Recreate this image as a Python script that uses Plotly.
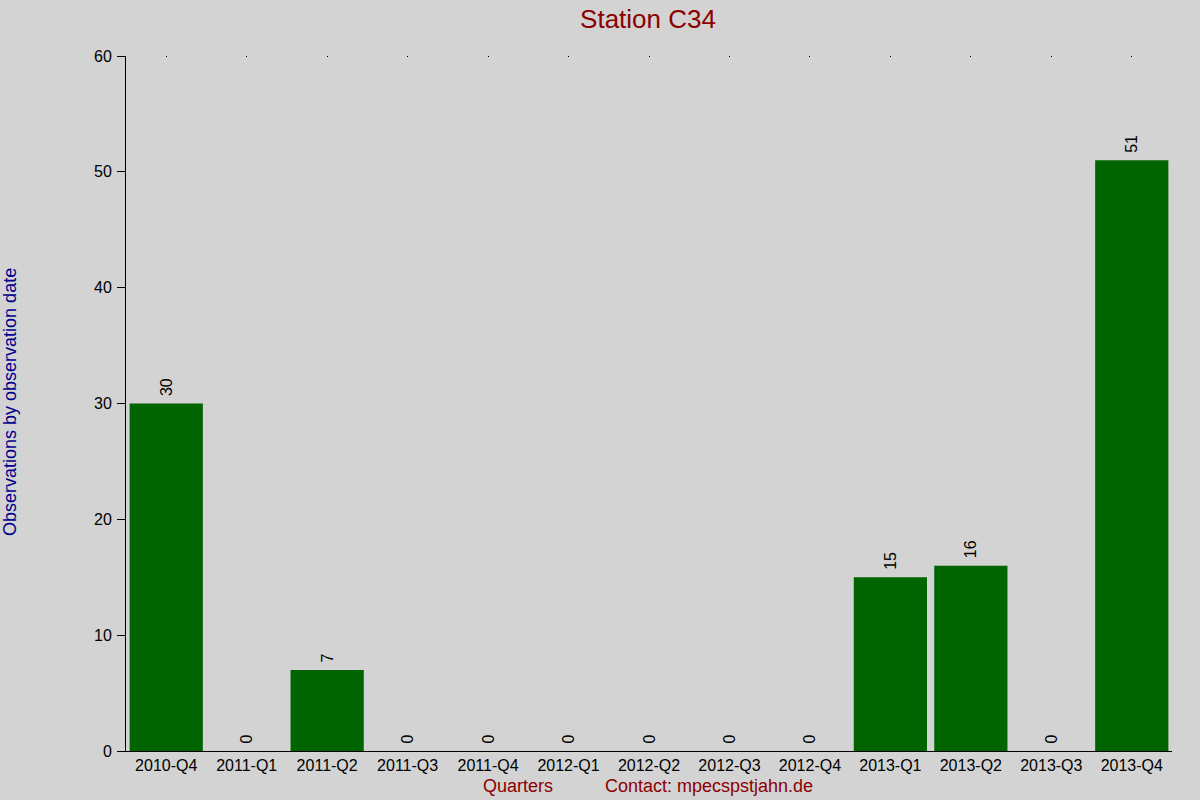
import plotly.graph_objects as go

quarters = ["2010-Q4", "2011-Q1", "2011-Q2", "2011-Q3", "2011-Q4", "2012-Q1", "2012-Q2",
            "2012-Q3", "2012-Q4", "2013-Q1", "2013-Q2", "2013-Q3", "2013-Q4"]
counts = [30, 0, 7, 0, 0, 0, 0, 0, 0, 15, 16, 0, 51]
y_ticks = [0, 10, 20, 30, 40, 50, 60]

FONT = "Liberation Sans, Arial, sans-serif"
L, R, T, B = 126, 28, 56, 49
PW = 1200 - L - R
PH = 800 - T - B

fig = go.Figure()
fig.add_trace(go.Bar(
    x=quarters, y=counts,
    marker=dict(color="#006400", line=dict(width=0)),
    text=["\u00a0" + str(v) for v in counts], textposition="outside", textangle=-90,
    textfont=dict(family=FONT, size=16, color="black"),
    cliponaxis=False, showlegend=False,
))
# invisible trace to carry the small top tick dots
fig.add_trace(go.Bar(x=quarters, y=[None]*len(quarters), xaxis="x2", showlegend=False,
                     hoverinfo="skip"))

fig.update_layout(
    width=1200, height=800,
    paper_bgcolor="#d3d3d3", plot_bgcolor="#d3d3d3",
    margin=dict(l=L, r=R, t=T, b=B, autoexpand=False),
    bargap=0.09,
    font=dict(family=FONT, size=16, color="black"),
    title=dict(text="Station C34", x=0.54, xanchor="center", y=0.977, yanchor="middle",
               font=dict(family=FONT, size=26, color="#8b0000")),
    xaxis=dict(type="category", categoryorder="array", categoryarray=quarters,
               showgrid=False, showline=True, linecolor="black", linewidth=1,
               ticks="", tickfont=dict(size=16, color="black"), zeroline=False,
               automargin=False),
    xaxis2=dict(type="category", categoryorder="array", categoryarray=quarters,
                overlaying="x", side="top", showgrid=False, showline=False,
                ticks="inside", ticklen=1, tickwidth=1, tickcolor="black",
                showticklabels=False, matches="x", automargin=False),
    yaxis=dict(range=[0, 60], tickvals=y_ticks, showgrid=False, showline=True,
               linecolor="black", linewidth=1, ticks="outside", ticklen=8,
               tickcolor="black", tickfont=dict(size=16, color="black"),
               zeroline=False, ticklabelstandoff=2, automargin=False),
)

fig.add_annotation(text="Observations by observation date", xref="paper", yref="paper",
                   x=(10 - L) / PW, y=(751 - 402) / PH, textangle=-90,
                   xanchor="center", yanchor="middle", showarrow=False,
                   font=dict(family=FONT, size=18, color="#00008b"))
fig.add_annotation(text="Quarters", xref="paper", yref="paper", x=(481 - L) / PW, y=-0.05,
                   xanchor="left", yanchor="middle", showarrow=False,
                   font=dict(family=FONT, size=18, color="#8b0000"))
fig.add_annotation(text="Contact: mpecspstjahn.de", xref="paper", yref="paper",
                   x=(603 - L) / PW, y=-0.05, xanchor="left", yanchor="middle",
                   showarrow=False, font=dict(family=FONT, size=18, color="#8b0000"))

fig.write_html("out.html", config={"displayModeBar": False},
               post_script="document.body.style.margin='0';document.body.style.overflow='hidden';")
